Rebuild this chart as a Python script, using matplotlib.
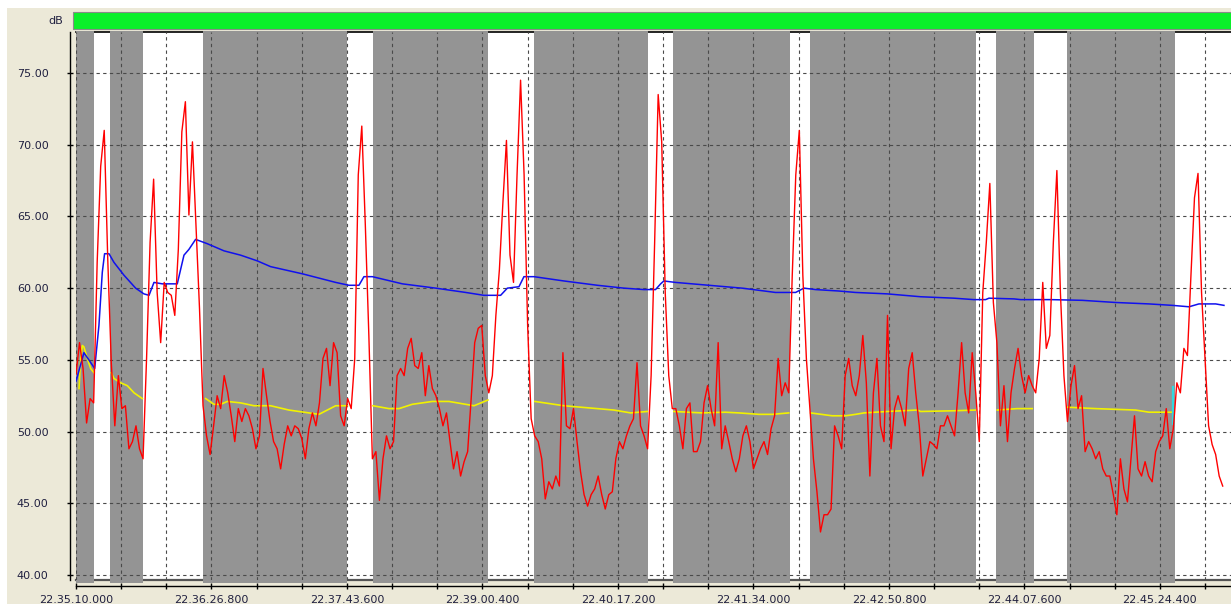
import numpy as np
import matplotlib
matplotlib.use("Agg")
import matplotlib.pyplot as plt
from matplotlib.patches import Rectangle

# time axis: seconds after 22.35.10.000
# red trace read off every 2 s
red_t = np.arange(0, 652, 2)
red_db = [
    54.0, 56.2, 54.4, 50.6, 52.3, 52.0, 61.8, 68.5, 71.0, 62.0,
    54.8, 50.4, 53.9, 51.6, 51.8, 48.8, 49.3, 50.4, 48.8, 48.1,
    55.1, 63.2, 67.6, 59.7, 56.2, 60.4, 59.7, 59.5, 58.1, 62.7,
    70.9, 73.0, 65.1, 70.2, 64.4, 58.6, 51.8, 49.7, 48.4, 50.4,
    52.5, 51.6, 53.9, 52.7, 51.1, 49.3, 51.6, 50.7, 51.6, 51.1,
    50.2, 48.8, 49.7, 54.4, 52.5, 50.7,
    49.3, 48.8, 47.4, 49.1, 50.4, 49.7, 50.4, 50.2, 49.5, 48.1,
    50.2, 51.3, 50.4, 52.0, 55.1, 55.8, 53.2, 56.2, 55.5, 51.1,
    50.4, 52.3, 51.6, 55.1, 67.9, 71.3, 64.4, 56.7, 48.1, 48.6,
    45.2, 48.1, 49.7, 48.8, 49.3, 53.9, 54.4, 53.9, 55.8, 56.5,
    54.6, 54.4, 55.5, 52.5, 54.6, 53.0, 52.5, 51.6, 50.4, 51.3,
    49.3, 47.4, 48.6, 46.9, 47.9,
    48.6, 52.3, 56.2, 57.2, 57.4, 53.9, 52.7, 53.9, 58.1, 61.3,
    66.0, 70.3, 62.3, 60.4, 67.9, 74.5, 67.9, 57.4, 50.9, 49.7,
    49.3, 48.1, 45.3, 46.5, 46.0, 46.9, 46.2, 55.5, 50.4, 50.2,
    51.6, 49.3, 47.2, 45.6, 44.8, 45.6, 46.0, 46.9, 45.6, 44.6,
    45.6, 45.8, 48.1, 49.3, 48.8, 49.7, 50.4, 50.9, 54.8, 50.4,
    49.7, 48.8, 53.9, 63.2, 73.5,
    70.2, 59.7, 53.9, 51.6, 51.6, 50.4, 48.8, 51.6, 52.0, 48.6,
    48.6, 49.3, 52.0, 53.2, 51.6, 50.4, 56.2, 48.8, 50.4, 49.3,
    48.1, 47.2, 48.1, 49.7, 50.4, 49.3, 47.4, 48.1, 48.8, 49.3,
    48.4, 50.2, 51.1, 55.1, 52.5, 53.4, 52.7, 60.9, 67.9, 71.0,
    60.9, 55.1, 51.6, 48.1, 45.8, 43.0, 44.2, 44.2, 44.6, 50.4,
    49.7, 48.8, 53.9, 55.1, 53.2, 52.5,
    53.9, 56.7, 53.4, 46.9, 52.7, 55.1, 50.4, 49.3, 58.1, 48.8,
    51.6, 52.5, 51.6, 50.4, 54.4, 55.5, 52.7, 50.4, 46.9, 48.1,
    49.3, 49.1, 48.8, 50.4, 50.4, 51.1, 50.4, 49.7, 52.7, 56.2,
    52.7, 51.3, 55.5, 52.7, 49.3, 59.7, 63.2, 67.3, 59.0, 56.2,
    50.4, 53.2, 49.3, 52.7, 54.4, 55.8, 53.9, 52.7, 53.9, 53.2,
    52.7, 55.1, 60.4, 55.8, 56.7,
    63.2, 68.2, 59.7, 53.9, 50.7, 53.2, 54.6, 51.6, 52.5, 48.6,
    49.3, 48.8, 48.1, 48.6, 47.4, 46.9, 46.9, 45.6, 44.2, 48.1,
    46.0, 45.1, 48.1, 51.1, 47.4, 46.9, 47.9, 46.9, 46.5, 48.6,
    49.3, 49.7, 51.6, 48.8, 50.2, 53.4, 52.7, 55.8, 55.3, 60.9,
    66.3, 68.0, 59.7, 55.1, 50.4, 49.1, 48.4, 46.9, 46.2,
]

blue_t = [0, 4.5, 10.6, 13.0, 14.9, 16.2, 18.7, 21.5, 27.2, 33.8, 38.5, 41.4,
          44.2, 48.9, 57.4, 61.2, 64.0, 67.8, 74.4, 83.9, 93.3, 102.8, 110.3,
          128.3, 147.2, 154.7, 160.4, 163.2, 168.0, 185.0, 203.9, 220.9,
          231.2, 240.7, 244.5, 251.1, 253.9, 259.6, 276.6, 295.5, 310.6, 321.9,
          328.5, 331.4, 333.2, 339.8, 358.7, 377.6, 396.5, 407.9, 412.6, 419.2,
          432.4, 441.9, 459.9, 478.8, 497.7, 509.0, 515.6, 517.5, 531.7, 535.5,
          552.5, 570.4, 589.3, 608.2, 621.4, 630.9, 636.5, 646.0, 650.7]
blue_db = [53.5, 55.5, 54.4, 57.4, 61.1, 62.4, 62.4, 61.8, 60.9, 60.0, 59.6, 59.5,
           60.4, 60.3, 60.3, 62.3, 62.7, 63.4, 63.1, 62.6, 62.3, 61.9, 61.5,
           61.0, 60.4, 60.2, 60.2, 60.8, 60.8, 60.3, 60.0, 59.7,
           59.5, 59.5, 60.0, 60.1, 60.8, 60.8, 60.5, 60.2, 60.0, 59.9,
           59.9, 60.3, 60.5, 60.4, 60.2, 60.0, 59.7, 59.7, 60.0, 59.9,
           59.8, 59.7, 59.6, 59.4, 59.3, 59.2, 59.2, 59.3, 59.25, 59.2,
           59.2, 59.15, 59.0, 58.9, 58.8, 58.7, 58.9, 58.9, 58.8]

nan = np.nan
yellow_t = [1.7, 2.6, 3.6, 4.5, 6.4, 8.3, 10.2, nan,
            20.0, 21.5, 25.3, 29.1, 32.9, 37.6, nan,
            73.5, 78.2, 82.0, 85.8, 93.3, 100.9, 110.3, 120.7, 132.1, 137.7,
            147.2, 153.8, nan,
            168.3, 177.4, 183.1, 190.6, 202.0, 211.4, 220.9, 225.6, 233.5, nan,
            260.1, 276.6, 295.5, 304.9, 314.4, 323.8, nan,
            338.9, 355.0, 368.0, 375.8, 387.1, 394.7, 404.0, nan,
            416.4, 428.6, 436.2, 441.9, 446.7, 459.9, 476.9, 478.8, 497.7, 510.0, nan,
            522.2, 533.5, 542.0, nan,
            561.9, 578.0, 589.3, 600.6, 608.2, 621.8]
yellow_db = [53.0, 55.0, 56.0, 55.9, 55.1, 54.4, 54.1, nan,
             54.1, 53.7, 53.4, 53.2, 52.7, 52.3, nan,
             52.3, 51.9, 51.9, 52.1, 52.0, 51.8, 51.8, 51.5, 51.3, 51.2,
             51.8, 51.8, nan,
             51.8, 51.6, 51.6, 51.9, 52.1, 52.1, 51.9, 51.8, 52.2, nan,
             52.1, 51.8, 51.6, 51.5, 51.3, 51.4, nan,
             51.4, 51.3, 51.35, 51.3, 51.2, 51.2, 51.3, nan,
             51.3, 51.1, 51.1, 51.2, 51.3, 51.4, 51.5, 51.4, 51.45, 51.5, nan,
             51.5, 51.6, 51.6, nan,
             51.7, 51.6, 51.55, 51.5, 51.35, 51.35]

cyan_t = [621.8, 621.8]
cyan_db = [53.1, 50.5]

# grey (excluded) intervals, seconds
bands = [(0, 10.2), (19.3, 38.1), (72.0, 153.8), (168.2, 233.7), (259.6, 324.3),
         (338.2, 405.0), (416.0, 510.1), (521.5, 543.0), (561.5, 622.9)]

y_ticks = [40, 45, 50, 55, 60, 65, 70, 75]
x_labels = ['22.35.10.000', '22.36.26.800', '22.37.43.600', '22.39.00.400',
            '22.40.17.200', '22.41.34.000', '22.42.50.800', '22.44.07.600',
            '22.45.24.400']

W, H = 1231, 604
fig = plt.figure(figsize=(W / 100, H / 100), dpi=100, facecolor='white')
fig.patches.append(Rectangle((7 / W, 0), 1, (H - 8) / H, transform=fig.transFigure,
                             facecolor='#ECE9D8', edgecolor='none', zorder=-10))
fig.patches.append(Rectangle((73 / W, 1 - 29 / H), 1, 17 / H, transform=fig.transFigure,
                             facecolor='#0AF02A', edgecolor='#8a8a8a', lw=0.8, zorder=-5))
fig.text(63 / W, 1 - 21 / H, 'dB', ha='right', va='center', fontsize=8, color='#202040')

ax = fig.add_axes([76 / W, 24 / H, 1 - 76 / W, (580 - 32) / H])
ax.set_facecolor('white')
ax.set_xlim(0, 654.7)
ax.set_ylim(39.65, 77.86)

for a, b in bands:
    p = ax.axvspan(a, b, ymin=-0.006, ymax=1.002, color='#949494', lw=0, zorder=1)
    p.set_clip_on(False)

# bottom edge of the plot area (the x axis itself sits a few px lower)
ax.axhline(39.65, color='#555555', lw=1.6, zorder=0.9, clip_on=False)

ax.plot(yellow_t, yellow_db, color='#F2F200', lw=1.2, zorder=3)
ax.plot(blue_t, blue_db, color='#1010EE', lw=1.1, zorder=4)
ax.plot(cyan_t, cyan_db, color='#30D8E0', lw=1.6, zorder=4)
ax.plot(red_t, red_db, color='#FF0000', lw=1.0, zorder=5)

ax.set_yticks(y_ticks)
ax.set_yticklabels(['%.2f' % v for v in y_ticks])
ax.set_xticks(np.arange(len(x_labels)) * 76.8)
ax.set_xticklabels(x_labels)
ax.set_xticks(np.arange(0, 655, 25.6), minor=True)

ax.set_axisbelow(False)
grid_kw = dict(color='#4a4a4a', lw=0.8, ls=(0, (3, 3)))
ax.grid(which='both', axis='x', **grid_kw)
ax.grid(which='major', axis='y', **grid_kw)

ax.spines['right'].set_visible(False)
ax.spines['top'].set_zorder(0.9)
ax.spines['top'].set_linewidth(1.2)
for side in ['left', 'bottom']:
    ax.spines[side].set_position(('outward', 4.3))
    ax.spines[side].set_linewidth(1.0)

ax.tick_params(which='both', direction='inout', length=5, width=1, colors='black',
               labelcolor='#202040', labelsize=8)
ax.tick_params(axis='y', pad=13)
ax.tick_params(axis='x', pad=4)

fig.savefig('out.png', dpi=100)
